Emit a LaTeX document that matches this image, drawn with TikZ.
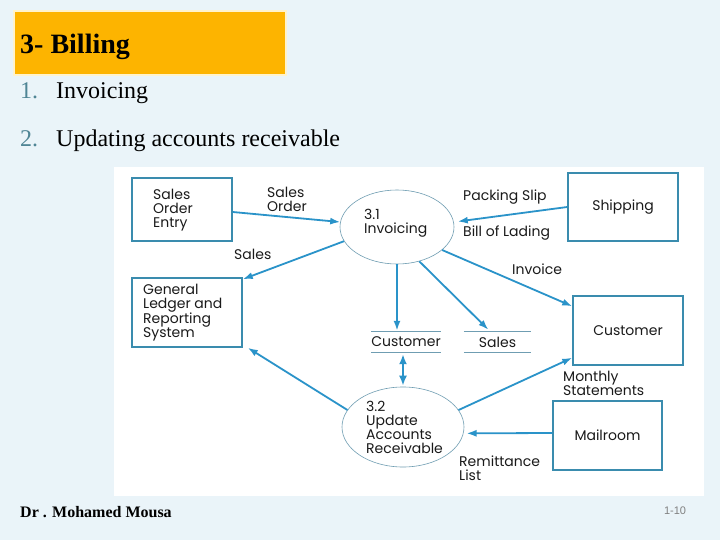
\documentclass[tikz,border=0pt]{standalone}
\usepackage{fontspec}
\setmainfont{Liberation Serif}
\newfontfamily\dfdfont{Poppins}
\newfontfamily\arialfont{Liberation Sans}
\usetikzlibrary{arrows.meta,shapes.geometric,calc}
\definecolor{bgc}{HTML}{EAF4F9}
\definecolor{orangec}{HTML}{FDB400}
\definecolor{creamc}{HTML}{FFF3CC}
\definecolor{numc}{HTML}{4F8595}
\definecolor{arrc}{HTML}{2A93C9}
\definecolor{boxc}{HTML}{3A8CAE}
\definecolor{ellc}{HTML}{6F9DB2}
\definecolor{txtc}{HTML}{1A1A1A}
\begin{document}
\begin{tikzpicture}[x=1pt,y=-1pt,
  box/.style={draw=boxc,line width=1.5pt,inner sep=0pt,font=\dfdfont\fontsize{14}{14}\selectfont,text=txtc},
  proc/.style={ellipse,draw=ellc,line width=0.6pt,inner sep=0pt},
  flow/.style={draw=arrc,line width=1.8pt,-{Latex[length=10pt,width=7pt]}},
  lbl/.style={font=\dfdfont\fontsize{14}{14}\selectfont,text=txtc,inner sep=0pt,align=left,anchor=west},
  store/.style={inner sep=0pt,minimum width=68pt,minimum height=20pt,font=\dfdfont\fontsize{14}{14}\selectfont,text=txtc},
  storeline/.style={draw=ellc,line width=0.9pt},
  slide/.style={inner sep=0pt,anchor=base west}
]
\useasboundingbox (0,0) rectangle (720,540);
\fill[bgc] (0,0) rectangle (720,540);
\fill[white] (114,167) rectangle (704,496);

% title
\node[draw=creamc,line width=1.5pt,fill=orangec,minimum width=272pt,minimum height=64pt,inner sep=0pt] (tbox) at (150,43) {};
\node[slide,font=\fontsize{28}{30}\selectfont\bfseries] (title) at (20,54) {3- Billing};
\node[slide,font=\fontsize{24}{28}\selectfont,text=numc] (n1) at (20,99) {1.};
\node[slide,font=\fontsize{24}{28}\selectfont] (i1) at (56,99) {Invoicing};
\node[slide,font=\fontsize{24}{28}\selectfont,text=numc] (n2) at (20,147) {2.};
\node[slide,font=\fontsize{24}{28}\selectfont] (i2) at (56,147) {Updating accounts receivable};
\node[slide,font=\fontsize{16}{18}\selectfont\bfseries] (foot) at (20,517) {Dr . Mohamed Mousa};
\node[inner sep=0pt,font=\arialfont\fontsize{11}{12}\selectfont,text=gray] (pg) at (675,511) {1-10};

% entities
\node[box,minimum width=100pt,minimum height=63pt] (soe) at (182,209.5) {};
\node[lbl] (soet) at (153,210) {Sales\\Order\\Entry};
\node[box,minimum width=110pt,minimum height=68pt] (ship) at (623,207) {Shipping};
\node[box,minimum width=110pt,minimum height=69pt] (gl) at (187,312.5) {};
\node[lbl] (glt) at (143,312.5) {General\\Ledger and\\Reporting\\System};
\node[box,minimum width=110pt,minimum height=69pt] (cust) at (628,330.5) {Customer};
\node[box,minimum width=109pt,minimum height=69pt] (mail) at (607.5,435.5) {Mailroom};

% processes
\node[proc,minimum width=114pt,minimum height=74pt] (p1) at (397,227) {};
\node[lbl] (p1t) at (364,223) {3.1\\Invoicing};
\node[proc,minimum width=122pt,minimum height=80pt] (p2) at (403,427) {};
\node[lbl] (p2t) at (366,427) {3.2\\Update\\Accounts\\Receivable};

% data stores
\node[store] (cs) at (406,342) {Customer};
\node[store,minimum width=67pt] (ss) at (497.5,342) {Sales};
\draw[storeline] (cs.north west) -- (cs.north east);
\draw[storeline] (cs.south west) -- (cs.south east);
\draw[storeline] (ss.north west) -- (ss.north east);
\draw[storeline] (ss.south west) -- (ss.south east);

% flows
\draw[flow] ([yshift=-2.5pt]soe.east) -- (p1.175);
\draw[flow] (p1.195) -- ([yshift=-2pt]gl.north east);
\draw[flow,shorten >=4pt] (ship.west) -- (p1.5);
\draw[flow] (p1.-27) -- ([yshift=-11pt]cust.north west);
\draw[flow,line width=2.6pt,shorten >=1pt] (p1.south) -- (p1.south |- cs.north);
\draw[flow,shorten >=3pt] (p1.-57) -- ([xshift=-7pt]ss.north);
\draw[flow,{Latex[length=10pt,width=8pt]}-{Latex[length=10pt,width=8pt]},line width=2.4pt,shorten >=1pt,shorten <=2pt] (p2.north |- cs.south) -- (p2.north);
\draw[flow] (p2.163) -- ([xshift=5pt]gl.south east);
\draw[flow] (p2.17) -- ([yshift=8pt]cust.south west);
\draw[flow,shorten >=3pt] ([yshift=2.5pt]mail.west) -- (p2.-6);

% flow labels
\node[lbl] (l1) at (267,199) {Sales\\Order};
\node[lbl] (l2) at (234,254) {Sales};
\node[lbl] (l3) at (463,197) {Packing Slip};
\node[lbl] (l4) at (463,233) {Bill of Lading};
\node[lbl] (l5) at (512,269) {Invoice};
\node[lbl] (l6) at (563,383.5) {Monthly\\Statements};
\node[lbl] (l7) at (459,468) {Remittance\\List};
\end{tikzpicture}
\end{document}
